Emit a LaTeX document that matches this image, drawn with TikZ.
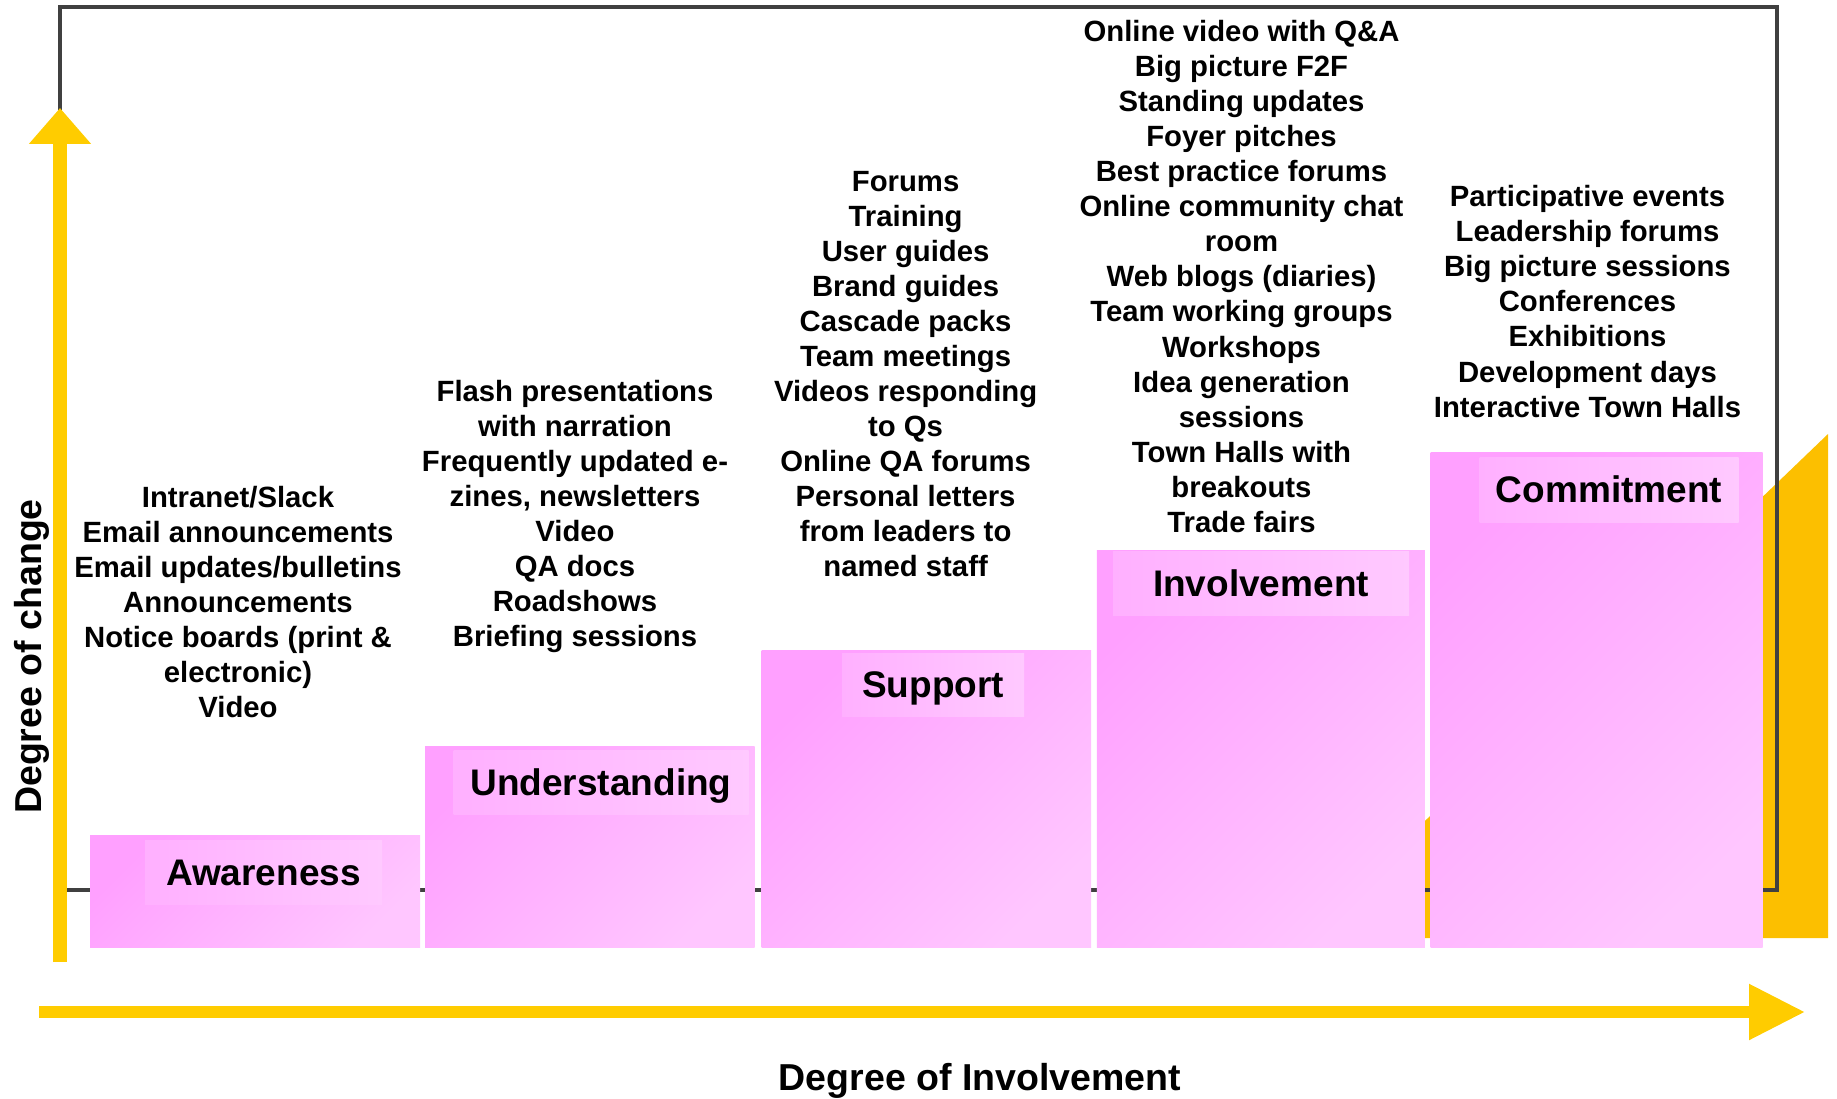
\documentclass[tikz,border=0pt]{standalone}
\usepackage{fontspec}
\setmainfont{Liberation Sans}
\usetikzlibrary{arrows.meta}

\definecolor{axisyellow}{HTML}{FFCC00}
\definecolor{wedgeyellow}{HTML}{FCBF00}
\definecolor{framegray}{HTML}{404040}
\definecolor{pinkdark}{HTML}{FFA0FF}
\definecolor{pinklight}{HTML}{FFC6FF}
\definecolor{tagleft}{HTML}{FFB0FF}
\definecolor{tagright}{HTML}{FFC9FF}

\begin{document}
\begin{tikzpicture}[x=1pt,y=-1pt,
    every node/.style={font=\bfseries},
    stage/.style={anchor=north west, inner sep=0pt, shade,
        left color=pinkdark, right color=pinklight, shading angle=45},
    tag/.style={inner sep=0pt, minimum height=64pt, shade, left color=tagleft, right color=tagright,
        font=\fontsize{37}{44}\selectfont\bfseries, text height=26.5pt, text depth=0pt},
    item/.style={anchor=base, inner sep=0pt, font=\fontsize{29.3}{35}\selectfont\bfseries},
    axislabel/.style={anchor=base, inner sep=0pt, font=\fontsize{37.5}{44}\selectfont\bfseries}]

    \useasboundingbox (0,0) rectangle (1837,1099);

    % background wedge and frame
    \fill[wedgeyellow] (1303,938) -- (1828,938) -- (1828,434) -- cycle;
    \draw[framegray, line width=4pt] (60,7) rectangle (1777,890);

    % stages
    \node[stage, minimum width=330pt, minimum height=112.5pt] (aware) at (90,835) {};
    \node[stage, minimum width=329.5pt, minimum height=201.5pt] (under) at (425,746) {};
    \node[stage, minimum width=329.3pt, minimum height=297.5pt] (supp) at (761.5,650) {};
    \node[stage, minimum width=328pt, minimum height=397.5pt] (invol) at (1096.6,550) {};
    \node[stage, minimum width=332pt, minimum height=495.5pt] (commit) at (1430.5,452) {};

    \node[tag, minimum width=237pt] (aware_t) at (263.5,872) {Awareness};
    \node[tag, minimum width=295pt] (under_t) at (601,782) {Understanding};
    \node[tag, minimum width=182pt, minimum height=63pt] (supp_t) at (933,684.5) {Support};
    \node[tag, minimum width=296pt] (invol_t) at (1261,583) {Involvement};
    \node[tag, minimum width=259pt, minimum height=65pt] (commit_t) at (1609,489.5) {Commitment};

    % channels per stage
    \foreach \t [count=\i from 0] in {Intranet/Slack, Email announcements, Email updates/bulletins,
        Announcements, {Notice boards (print \&}, {electronic)}, Video} {
        \node[item] (aw_\i) at (238, 507+35*\i) {\t};
    }
    \foreach \t [count=\i from 0] in {Flash presentations, with narration, Frequently updated e-,
        {zines, newsletters}, Video, QA docs, Roadshows, Briefing sessions} {
        \node[item] (un_\i) at (575, 401.5+35*\i) {\t};
    }
    \foreach \t [count=\i from 0] in {Forums, Training, User guides, Brand guides, Cascade packs,
        Team meetings, Videos responding, to Qs, Online QA forums, Personal letters,
        from leaders to, named staff} {
        \node[item] (su_\i) at (905.6, 191.8+35*\i) {\t};
    }
    \foreach \t [count=\i from 0] in {Online video with Q\&A, Big picture F2F, Standing updates,
        Foyer pitches, Best practice forums, Online community chat, room, {Web blogs (diaries)},
        Team working groups, Workshops, Idea generation, sessions, Town Halls with, breakouts,
        Trade fairs} {
        \node[item] (in_\i) at (1241.5, 42+35*\i) {\t};
    }
    \foreach \t [count=\i from 0] in {Participative events, Leadership forums, Big picture sessions,
        Conferences, Exhibitions, Development days, Interactive Town Halls} {
        \node[item] (co_\i) at (1587.5, 207+35*\i) {\t};
    }

    % axes
    \coordinate (y_from) at (60,962);
    \coordinate (y_to) at (60,108);
    \coordinate (x_from) at (39,1012);
    \coordinate (x_to) at (1805,1012);
    \draw[axisyellow, line width=13.3pt, -{Triangle[length=36pt, width=60pt]}] (y_from) -- (y_to);
    \draw[axisyellow, line width=11.7pt, -{Triangle[length=56pt, width=53pt]}] (x_from) -- (x_to);

    \node[axislabel, rotate=90] (ylabel) at (41,656.5) {Degree of change};
    \node[axislabel] (xlabel) at (980,1090) {Degree of Involvement};

\end{tikzpicture}
\end{document}
